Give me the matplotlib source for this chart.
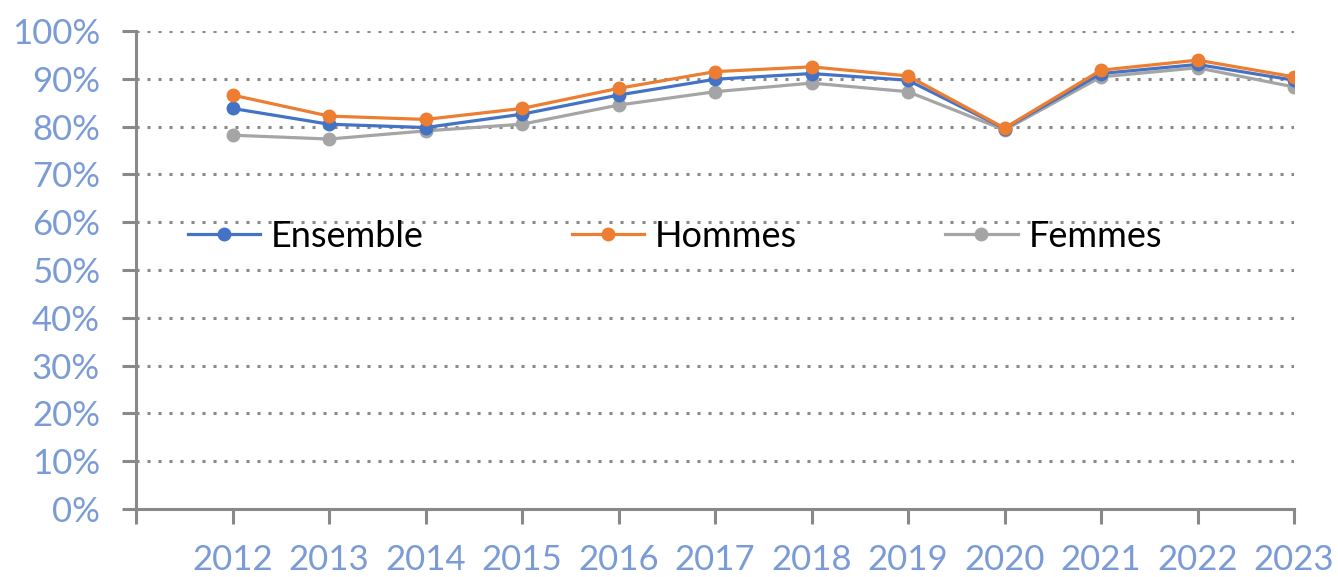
import matplotlib.pyplot as plt
from matplotlib.ticker import FuncFormatter

plt.rcParams['font.family'] = ['Lato', 'DejaVu Sans']

years = [2012, 2013, 2014, 2015, 2016, 2017, 2018, 2019, 2020, 2021, 2022, 2023]
ensemble = [83.8, 80.5, 79.8, 82.6, 86.6, 89.9, 91.1, 89.7, 79.6, 91.1, 93.0, 89.7]
hommes = [86.6, 82.2, 81.5, 83.8, 88.0, 91.5, 92.5, 90.6, 79.7, 91.8, 93.9, 90.4]
femmes = [78.2, 77.4, 79.1, 80.5, 84.5, 87.3, 89.1, 87.3, 79.3, 90.4, 92.3, 88.3]
y_ticks = [0, 10, 20, 30, 40, 50, 60, 70, 80, 90, 100]

blue = '#4472C4'
orange = '#ED7D31'
gray = '#A5A5A5'
label_color = '#7A9BD6'
axis_color = '#898989'

fig = plt.figure(figsize=(13.38, 5.77), dpi=100)
ax = fig.add_axes([136 / 1338, 1 - 509 / 577, (1294 - 136) / 1338, (509 - 31) / 577])

ax.plot(years, ensemble, color=blue, lw=2.3, marker='o', ms=9, label='Ensemble', zorder=3)
ax.plot(years, hommes, color=orange, lw=2.3, marker='o', ms=9, label='Hommes', zorder=4)
ax.plot(years, femmes, color=gray, lw=2.3, marker='o', ms=9, label='Femmes', zorder=2)

ax.set_xlim(2011, 2023)
ax.set_ylim(0, 100)
ax.set_xticks(range(2011, 2024))
ax.set_xticklabels([''] + [str(y) for y in years])
ax.set_yticks(y_ticks)
ax.yaxis.set_major_formatter(FuncFormatter(lambda v, p: f'{v:.0f}%'))

for v in y_ticks[1:]:
    ax.axhline(v, color=axis_color, lw=2.2, ls=(0, (1, 2.6)), zorder=1)

for s in ['top', 'right']:
    ax.spines[s].set_visible(False)
for s in ['left', 'bottom']:
    ax.spines[s].set_color(axis_color)
    ax.spines[s].set_linewidth(2.2)
    ax.spines[s].set_zorder(0)

ax.tick_params(axis='x', length=11, width=2.2, color=axis_color, pad=14,
               labelsize=25, labelcolor=label_color)
ax.tick_params(axis='y', length=10, width=2.2, color=axis_color, pad=16,
               labelsize=25, labelcolor=label_color)

ax.legend(loc='center left', bbox_to_anchor=(0.045, 0.57), ncol=3, frameon=False,
          fontsize=26, handlelength=2.0, handletextpad=0.3, columnspacing=4.1,
          borderaxespad=0, borderpad=0)

fig.savefig('out.png', dpi=100)
